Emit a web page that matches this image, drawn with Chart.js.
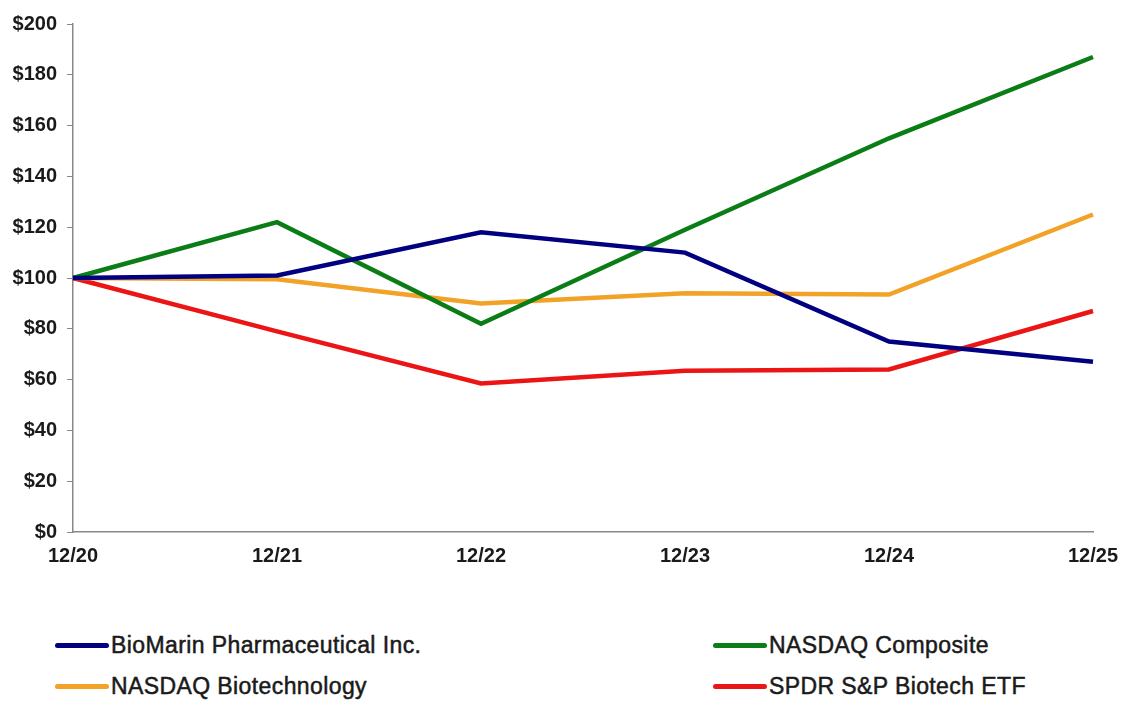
<!DOCTYPE html>
<html>
<head>
<meta charset="utf-8">
<script src="https://cdn.jsdelivr.net/npm/chart.js@4/dist/chart.umd.min.js"></script>
<style>
    body { margin: 0; background: #fff; font-family: "Liberation Sans", Arial, sans-serif; }
    #wrap { position: relative; width: 1125px; height: 723px; }
    #box { position: absolute; left: 0; top: 0; width: 1125px; height: 580px; }
    .item { position: absolute; display: flex; align-items: center; font-size: 23px; letter-spacing: 0.4px; color: #1a1a1a; white-space: nowrap; -webkit-text-stroke: 0.5px #1a1a1a; }
    .item span.swatch { display: inline-block; width: 54px; height: 5px; border-radius: 3px; margin-right: 2px; }
</style>
</head>
<body>
<div id="wrap">
    <div id="box"><canvas id="myChart"></canvas></div>
    <div id="legend"></div>
</div>
<script>
var labels = ["12/20", "12/21", "12/22", "12/23", "12/24", "12/25"];
var biomarin = [100, 101, 118, 110, 75, 67];
var nasdaqComposite = [100, 122, 82, 119, 155, 187];
var nasdaqBiotech = [100, 99.5, 90, 94, 93.5, 125];
var spdrBiotech = [100, 79, 58.5, 63.5, 64, 87];
var yTicks = [0, 20, 40, 60, 80, 100, 120, 140, 160, 180, 200];

var series = [
    { label: "BioMarin Pharmaceutical Inc.", data: biomarin, color: "#000080" },
    { label: "NASDAQ Composite", data: nasdaqComposite, color: "#0b7d16" },
    { label: "NASDAQ Biotechnology", data: nasdaqBiotech, color: "#f2a226" },
    { label: "SPDR S&P Biotech ETF", data: spdrBiotech, color: "#ec1515" },
];

// legend spots, two columns like the original
var legendPos = [
    { left: 55, top: 632 },
    { left: 713, top: 632 },
    { left: 55, top: 673 },
    { left: 713, top: 673 },
];
var legend = document.getElementById("legend");
series.forEach(function (s, i) {
    var d = document.createElement("div");
    d.className = "item";
    d.style.left = legendPos[i].left + "px";
    d.style.top = legendPos[i].top + "px";
    d.innerHTML = '<span class="swatch" style="background:' + s.color + '"></span>';
    d.appendChild(document.createTextNode(s.label));
    legend.appendChild(d);
});

var ctx = document.getElementById("myChart").getContext("2d");
var tickFont = { family: "'Liberation Sans', Arial, sans-serif", size: 20, weight: "bold" };

var myChart = new Chart(ctx, {
    type: "line",
    data: {
        labels: labels,
        datasets: series.map(function (s) {
            return {
                label: s.label,
                data: s.data,
                borderColor: s.color,
                backgroundColor: s.color,
                borderWidth: 4.5,
                pointRadius: 0,
                tension: 0,
                fill: false,
            };
        }),
    },
    options: {
        responsive: true,
        maintainAspectRatio: false,
        animation: false,
        layout: { padding: { left: 0, top: 24, right: 32, bottom: 0 } },
        plugins: {
            legend: { display: false },
            tooltip: { enabled: false },
        },
        scales: {
            x: {
                offset: false,
                grid: { display: false, drawOnChartArea: false, drawTicks: true, tickLength: 6, color: "#888" },
                border: { display: true, color: "#888", width: 1.5 },
                ticks: { color: "#1a1a1a", font: tickFont, padding: 6, maxRotation: 0 },
                afterFit: function (scale) { scale.height = 48; },
            },
            y: {
                min: 0,
                max: 200,
                afterBuildTicks: function (scale) {
                    scale.ticks = yTicks.map(function (v) { return { value: v }; });
                },
                grid: { drawOnChartArea: false, drawTicks: true, tickLength: 6, color: "#888" },
                border: { display: true, color: "#888", width: 1.5 },
                ticks: {
                    color: "#1a1a1a",
                    font: tickFont,
                    padding: 10,
                    callback: function (v) { return "$" + v; },
                },
                afterFit: function (scale) { scale.width = 73; },
            },
        },
    },
});
</script>
</body>
</html>
